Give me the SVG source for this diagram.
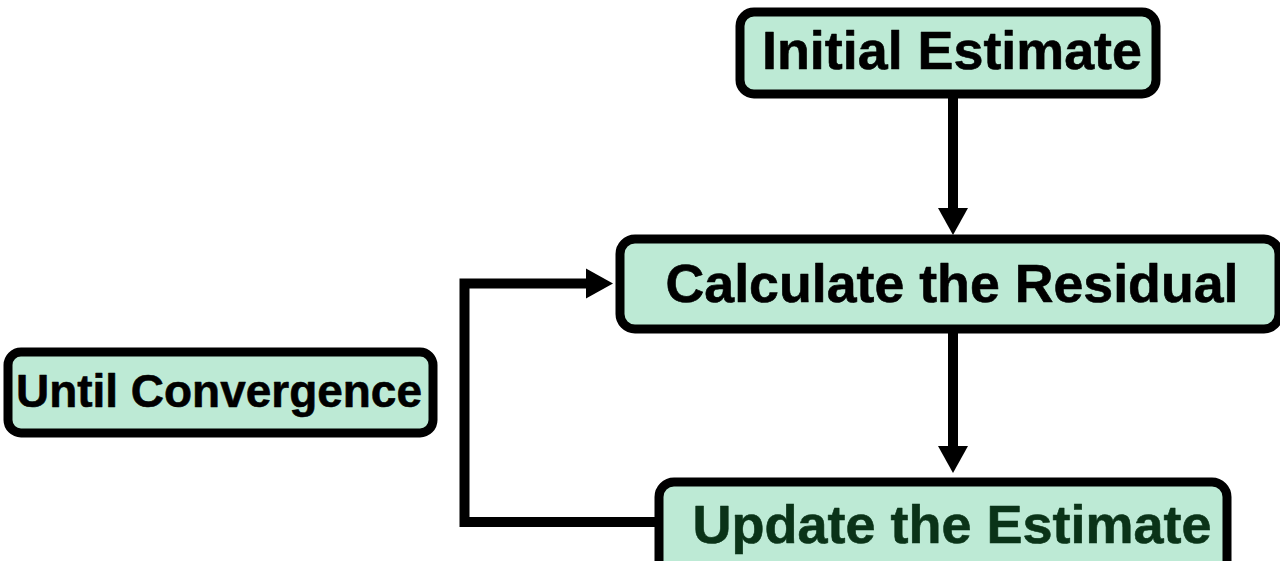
<svg xmlns="http://www.w3.org/2000/svg" width="1280" height="561" viewBox="0 0 1280 561">
  <style>
    .box { fill: #bdead5; stroke: #000; stroke-width: 9; }
    .lbl { font-family: "Liberation Sans", Arial, sans-serif; font-weight: bold; text-anchor: middle; fill: #000; stroke: #000; stroke-width: 0.6; stroke-linejoin: round; }
    .green { fill: #0a3318; stroke: #0a3318; }
    .conn { fill: none; stroke: #000; stroke-width: 10; stroke-linejoin: miter; }
  </style>
  <defs>
    <marker id="arrow" markerUnits="userSpaceOnUse" markerWidth="28" markerHeight="30" refX="0" refY="15" orient="auto" overflow="visible">
      <path d="M0,0 L27,15 L0,30 Z" fill="#000"/>
    </marker>
  </defs>
  <rect width="1280" height="561" fill="#fff"/>
  <g id="connectors">
    <path class="conn" d="M953,98 V208" marker-end="url(#arrow)"/>
    <path class="conn" d="M953,333 V446" marker-end="url(#arrow)"/>
    <path class="conn" d="M656,522 H464.5 V283.5 H586" marker-end="url(#arrow)"/>
  </g>
  <g id="initial">
    <rect class="box" x="740" y="12" width="416" height="82" rx="14"/>
    <text class="lbl" x="952" y="69" font-size="54" textLength="380" lengthAdjust="spacingAndGlyphs">Initial Estimate</text>
  </g>
  <g id="calculate">
    <rect class="box" x="620" y="239" width="659" height="90" rx="15"/>
    <text class="lbl" x="952" y="302" font-size="54" textLength="573" lengthAdjust="spacingAndGlyphs">Calculate the Residual</text>
  </g>
  <g id="update">
    <rect class="box" x="659" y="482" width="568" height="100" rx="15"/>
    <text class="lbl green" x="952" y="543" font-size="54" textLength="519" lengthAdjust="spacingAndGlyphs">Update the Estimate</text>
  </g>
  <g id="until">
    <rect class="box" x="8" y="352" width="425" height="81" rx="13"/>
    <text class="lbl" x="219" y="407" font-size="46" textLength="406" lengthAdjust="spacingAndGlyphs">Until Convergence</text>
  </g>
</svg>
